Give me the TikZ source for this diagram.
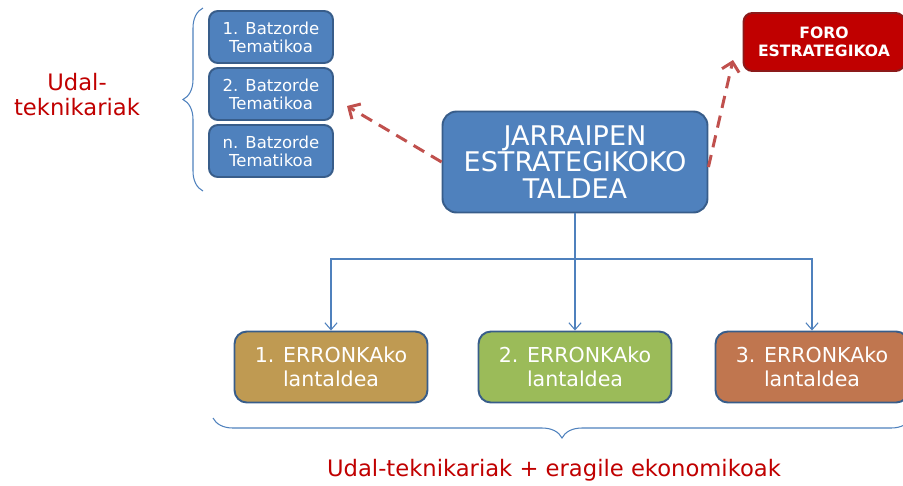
\documentclass[tikz,border=0pt]{standalone}
\usepackage{fontspec}
\setmainfont{DejaVu Sans}
\usepackage{xcolor}
\usetikzlibrary{arrows.meta,decorations.pathreplacing}
\definecolor{boxblue}{HTML}{4F81BD}
\definecolor{edgeblue}{HTML}{385D8A}
\definecolor{forored}{HTML}{C00000}
\definecolor{foroedge}{HTML}{8C1A1A}
\definecolor{dashred}{HTML}{C0504D}
\definecolor{labred}{HTML}{C00000}
\definecolor{gold}{HTML}{BF9A52}
\definecolor{leaf}{HTML}{9BBB59}
\definecolor{rust}{HTML}{C0764F}
\tikzset{
  batz/.style={draw=edgeblue, fill=boxblue, line width=1.1pt, rounded corners=5pt,
    minimum width=2.48cm, minimum height=1.04cm, align=center, text=white,
    font=\fontsize{9.4}{10.2}\selectfont},
  chief/.style={draw=edgeblue, fill=boxblue, line width=1.1pt, rounded corners=8pt,
    minimum width=5.3cm, minimum height=2.02cm, align=center, text=white,
    font=\fontsize{15.4}{15}\selectfont},
  foro/.style={draw=foroedge, fill=forored, line width=1.1pt, rounded corners=5pt,
    minimum width=3.22cm, minimum height=1.16cm, align=center, text=white,
    font=\fontsize{8.9}{10.5}\selectfont\bfseries},
  taldea/.style={draw=edgeblue, line width=1.1pt, rounded corners=7pt,
    minimum width=3.86cm, minimum height=1.42cm, align=center, text=white,
    font=\fontsize{11.7}{13.6}\selectfont},
  redlab/.style={text=labred, align=center, font=\fontsize{12.9}{14.2}\selectfont},
  link/.style={draw=dashred, line width=1.7pt, dash pattern=on 7pt off 4.5pt,
    -{Straight Barb[length=5pt,width=10pt,line width=1.7pt]}},
  tree/.style={draw=boxblue, line width=0.6pt,
    -{Straight Barb[length=4pt,width=7pt]}},
  bracket/.style={draw=boxblue, line width=0.6pt,
    decorate, decoration={brace, amplitude=0.4cm}},
}
\begin{document}
\begin{tikzpicture}[x=0.02cm, y=-0.02cm]
  \useasboundingbox (0,0) rectangle (903,485);
  \node[batz] (b1) at (271,37) {1. Batzorde\\Tematikoa};
  \node[batz] (b2) at (271,94) {2. Batzorde\\Tematikoa};
  \node[batz] (bn) at (271,151) {n. Batzorde\\Tematikoa};
  \node[chief] (main) at (575,162) {JARRAIPEN\\ESTRATEGIKOKO\\TALDEA};
  \node[foro] (foro) at (824,42) {FORO\\ESTRATEGIKOA};
  \node[taldea, fill=gold] (e1) at (331,367) {1. ERRONKAko\\lantaldea};
  \node[taldea, fill=leaf] (e2) at (575,367) {2. ERRONKAko\\lantaldea};
  \node[taldea, fill=rust] (e3) at (812,367) {3. ERRONKAko\\lantaldea};
  \node[redlab] (udal) at (77,95) {Udal-\\teknikariak};
  \node[redlab] (eragile) at (554,470) {Udal-teknikariak + eragile ekonomikoak};
  \coordinate (toBatz) at (347,106);
  \coordinate (toForo) at (733,60);
  \coordinate (split) at (575,259);
  \draw[link] (main.west) -- (toBatz);
  \draw[link] ([yshift=-0.1cm]main.east) -- (toForo);
  \draw[tree] (main.south) -- (e2.north);
  \draw[tree] (split) -| (e1.north);
  \draw[tree] (split) -| (e3.north);
  \draw[bracket] (203,191) -- (203,8);
  \draw[bracket] (911,418) -- (213,418);
\end{tikzpicture}
\end{document}
